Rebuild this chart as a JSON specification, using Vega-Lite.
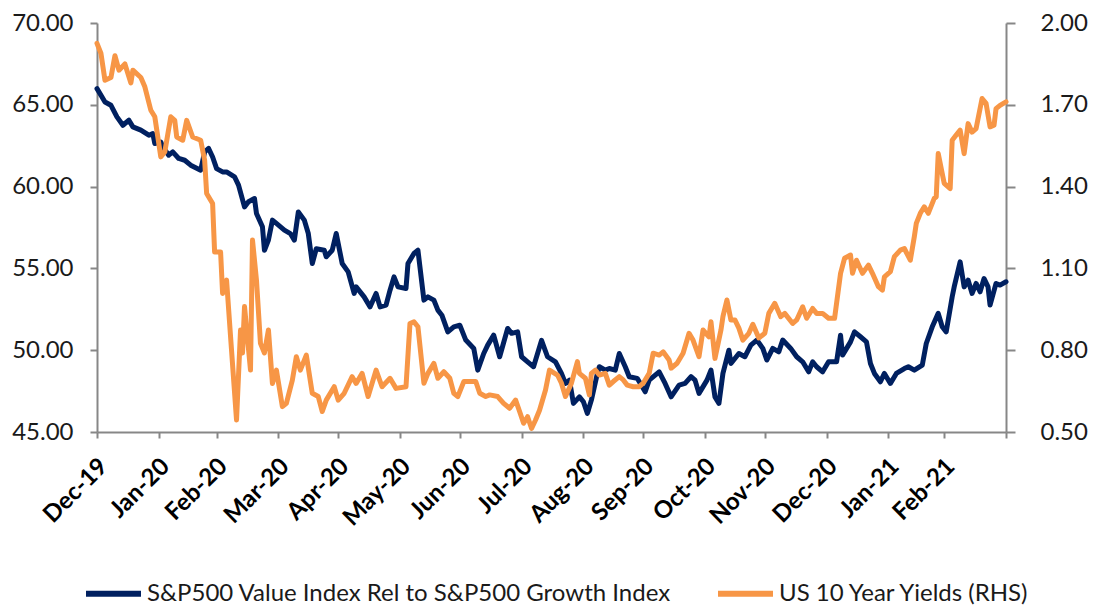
{
"$schema":"https://vega.github.io/schema/vega-lite/v6.json",
"width":909,"height":409,
"autosize":{"type":"none"},
"padding":{"left":97,"top":23,"right":96,"bottom":173},
"background":"white",
"config":{"view":{"stroke":null},"font":"Lato","axis":{"grid":false}},
"datasets":{
"rel":[
{"date":"2019-12-31","v":65.99},{"date":"2020-01-02","v":65.58},{"date":"2020-01-04","v":65.17},{"date":"2020-01-07","v":64.97},{"date":"2020-01-10","v":64.26},{"date":"2020-01-13","v":63.75},{"date":"2020-01-16","v":64.06},{"date":"2020-01-18","v":63.65},{"date":"2020-01-22","v":63.45},{"date":"2020-01-26","v":63.14},{"date":"2020-01-28","v":63.24},{"date":"2020-01-29","v":62.63},
{"date":"2020-02-01","v":62.73},{"date":"2020-02-02","v":62.43},{"date":"2020-02-05","v":61.92},{"date":"2020-02-07","v":62.12},{"date":"2020-02-10","v":61.72},{"date":"2020-02-13","v":61.61},{"date":"2020-02-16","v":61.31},{"date":"2020-02-21","v":61.0},{"date":"2020-02-23","v":62.12},{"date":"2020-02-25","v":62.33},{"date":"2020-02-27","v":61.81},{"date":"2020-02-29","v":61.1},
{"date":"2020-03-03","v":60.9},{"date":"2020-03-05","v":60.9},{"date":"2020-03-09","v":60.6},{"date":"2020-03-11","v":60.09},{"date":"2020-03-14","v":58.76},{"date":"2020-03-16","v":59.07},{"date":"2020-03-19","v":59.27},{"date":"2020-03-20","v":58.36},{"date":"2020-03-23","v":57.54},{"date":"2020-03-24","v":56.11},{"date":"2020-03-26","v":56.73},{"date":"2020-03-28","v":57.95},{"date":"2020-03-30","v":57.75},
{"date":"2020-04-03","v":57.34},{"date":"2020-04-06","v":57.13},{"date":"2020-04-08","v":56.73},{"date":"2020-04-10","v":58.45},{"date":"2020-04-13","v":57.95},{"date":"2020-04-15","v":57.13},{"date":"2020-04-17","v":55.3},{"date":"2020-04-19","v":56.2},{"date":"2020-04-23","v":56.11},{"date":"2020-04-24","v":55.71},{"date":"2020-04-27","v":56.11},{"date":"2020-04-29","v":57.13},
{"date":"2020-05-02","v":55.3},{"date":"2020-05-05","v":54.79},{"date":"2020-05-08","v":53.47},{"date":"2020-05-09","v":53.87},{"date":"2020-05-13","v":53.26},{"date":"2020-05-16","v":52.65},{"date":"2020-05-19","v":53.47},{"date":"2020-05-21","v":52.65},{"date":"2020-05-24","v":52.76},{"date":"2020-05-26","v":53.67},{"date":"2020-05-28","v":54.48},{"date":"2020-05-30","v":53.87},
{"date":"2020-06-03","v":53.77},{"date":"2020-06-04","v":55.3},{"date":"2020-06-07","v":55.91},{"date":"2020-06-09","v":56.11},{"date":"2020-06-12","v":53.06},{"date":"2020-06-14","v":53.26},{"date":"2020-06-17","v":53.06},{"date":"2020-06-19","v":52.45},{"date":"2020-06-21","v":52.14},{"date":"2020-06-24","v":51.12},{"date":"2020-06-27","v":51.43},{"date":"2020-06-30","v":51.53},
{"date":"2020-07-03","v":50.62},{"date":"2020-07-07","v":50.11},{"date":"2020-07-09","v":48.78},{"date":"2020-07-12","v":49.8},{"date":"2020-07-14","v":50.31},{"date":"2020-07-17","v":50.92},{"date":"2020-07-20","v":49.6},{"date":"2020-07-24","v":51.33},{"date":"2020-07-26","v":51.03},{"date":"2020-07-29","v":51.12},{"date":"2020-07-31","v":49.6},
{"date":"2020-08-03","v":49.29},{"date":"2020-08-06","v":48.99},{"date":"2020-08-10","v":50.6},{"date":"2020-08-13","v":49.6},{"date":"2020-08-17","v":49.29},{"date":"2020-08-20","v":48.58},{"date":"2020-08-22","v":47.97},{"date":"2020-08-24","v":48.17},{"date":"2020-08-26","v":46.75},{"date":"2020-08-29","v":47.15},{"date":"2020-08-31","v":46.85},
{"date":"2020-09-02","v":46.14},{"date":"2020-09-04","v":46.95},{"date":"2020-09-07","v":48.58},{"date":"2020-09-08","v":48.99},{"date":"2020-09-11","v":48.78},{"date":"2020-09-13","v":48.88},{"date":"2020-09-16","v":48.78},{"date":"2020-09-18","v":49.8},{"date":"2020-09-21","v":48.99},{"date":"2020-09-23","v":48.38},{"date":"2020-09-27","v":48.28},
{"date":"2020-10-01","v":47.46},{"date":"2020-10-03","v":48.17},{"date":"2020-10-08","v":48.68},{"date":"2020-10-11","v":47.97},{"date":"2020-10-14","v":47.15},{"date":"2020-10-18","v":47.87},{"date":"2020-10-21","v":47.97},{"date":"2020-10-24","v":48.38},{"date":"2020-10-26","v":48.17},{"date":"2020-10-28","v":47.36},
{"date":"2020-11-01","v":48.17},{"date":"2020-11-03","v":48.78},{"date":"2020-11-05","v":47.15},{"date":"2020-11-07","v":46.75},{"date":"2020-11-09","v":48.58},{"date":"2020-11-12","v":50.0},{"date":"2020-11-13","v":49.19},{"date":"2020-11-17","v":49.8},{"date":"2020-11-20","v":49.6},{"date":"2020-11-23","v":50.31},{"date":"2020-11-26","v":50.62},{"date":"2020-11-29","v":50.11},
{"date":"2020-12-01","v":49.4},{"date":"2020-12-04","v":50.11},{"date":"2020-12-07","v":49.9},{"date":"2020-12-09","v":50.62},{"date":"2020-12-13","v":50.11},{"date":"2020-12-16","v":49.6},{"date":"2020-12-19","v":49.29},{"date":"2020-12-22","v":48.68},{"date":"2020-12-24","v":49.29},{"date":"2020-12-26","v":48.99},{"date":"2020-12-29","v":48.68},
{"date":"2021-01-01","v":49.29},{"date":"2021-01-05","v":49.29},{"date":"2021-01-07","v":50.92},{"date":"2021-01-08","v":49.7},{"date":"2021-01-12","v":50.51},{"date":"2021-01-14","v":51.12},{"date":"2021-01-17","v":50.82},{"date":"2021-01-20","v":50.51},{"date":"2021-01-22","v":49.19},{"date":"2021-01-24","v":48.58},{"date":"2021-01-27","v":48.07},{"date":"2021-01-29","v":48.58},
{"date":"2021-02-01","v":47.97},{"date":"2021-02-04","v":48.58},{"date":"2021-02-08","v":48.88},{"date":"2021-02-10","v":48.99},{"date":"2021-02-13","v":48.78},{"date":"2021-02-17","v":49.09},{"date":"2021-02-19","v":50.41},{"date":"2021-02-22","v":51.43},{"date":"2021-02-25","v":52.25},{"date":"2021-02-27","v":51.43},
{"date":"2021-03-01","v":51.12},{"date":"2021-03-04","v":53.26},{"date":"2021-03-05","v":53.87},{"date":"2021-03-08","v":55.4},{"date":"2021-03-10","v":53.87},{"date":"2021-03-12","v":54.28},{"date":"2021-03-14","v":53.47},{"date":"2021-03-16","v":54.08},{"date":"2021-03-18","v":53.57},{"date":"2021-03-20","v":54.38},{"date":"2021-03-22","v":53.87},{"date":"2021-03-23","v":52.76},{"date":"2021-03-26","v":54.08},{"date":"2021-03-28","v":53.98},{"date":"2021-03-31","v":54.18}
],
"yld":[
{"date":"2019-12-31","v":1.925},{"date":"2020-01-02","v":1.888},{"date":"2020-01-04","v":1.79},{"date":"2020-01-07","v":1.8},{"date":"2020-01-09","v":1.88},{"date":"2020-01-11","v":1.827},{"date":"2020-01-14","v":1.85},{"date":"2020-01-17","v":1.78},{"date":"2020-01-18","v":1.827},{"date":"2020-01-22","v":1.8},{"date":"2020-01-24","v":1.766},{"date":"2020-01-27","v":1.68},{"date":"2020-01-29","v":1.656},
{"date":"2020-02-01","v":1.509},{"date":"2020-02-03","v":1.527},{"date":"2020-02-06","v":1.656},{"date":"2020-02-08","v":1.643},{"date":"2020-02-09","v":1.582},{"date":"2020-02-12","v":1.57},{"date":"2020-02-14","v":1.643},{"date":"2020-02-17","v":1.582},{"date":"2020-02-21","v":1.57},{"date":"2020-02-23","v":1.497},{"date":"2020-02-24","v":1.375},{"date":"2020-02-27","v":1.338},{"date":"2020-02-28","v":1.16},
{"date":"2020-03-02","v":1.16},{"date":"2020-03-03","v":1.008},{"date":"2020-03-05","v":1.057},{"date":"2020-03-07","v":0.85},{"date":"2020-03-10","v":0.544},{"date":"2020-03-12","v":0.874},{"date":"2020-03-13","v":0.79},{"date":"2020-03-14","v":0.96},{"date":"2020-03-17","v":0.727},{"date":"2020-03-18","v":1.204},{"date":"2020-03-20","v":1.057},{"date":"2020-03-22","v":0.825},{"date":"2020-03-24","v":0.79},{"date":"2020-03-26","v":0.874},{"date":"2020-03-28","v":0.678},{"date":"2020-03-30","v":0.727},
{"date":"2020-04-02","v":0.593},{"date":"2020-04-04","v":0.605},{"date":"2020-04-07","v":0.69},{"date":"2020-04-09","v":0.776},{"date":"2020-04-11","v":0.727},{"date":"2020-04-14","v":0.782},{"date":"2020-04-17","v":0.642},{"date":"2020-04-20","v":0.63},{"date":"2020-04-22","v":0.575},{"date":"2020-04-24","v":0.617},{"date":"2020-04-28","v":0.666},{"date":"2020-04-30","v":0.617},
{"date":"2020-05-03","v":0.642},{"date":"2020-05-07","v":0.703},{"date":"2020-05-09","v":0.678},{"date":"2020-05-12","v":0.715},{"date":"2020-05-15","v":0.63},{"date":"2020-05-19","v":0.727},{"date":"2020-05-22","v":0.666},{"date":"2020-05-26","v":0.697},{"date":"2020-05-29","v":0.66},
{"date":"2020-06-03","v":0.666},{"date":"2020-06-05","v":0.898},{"date":"2020-06-07","v":0.904},{"date":"2020-06-09","v":0.886},{"date":"2020-06-12","v":0.679},{"date":"2020-06-14","v":0.715},{"date":"2020-06-17","v":0.752},{"date":"2020-06-19","v":0.697},{"date":"2020-06-22","v":0.721},{"date":"2020-06-25","v":0.697},{"date":"2020-06-27","v":0.642},{"date":"2020-06-29","v":0.63},
{"date":"2020-07-02","v":0.685},{"date":"2020-07-05","v":0.685},{"date":"2020-07-08","v":0.685},{"date":"2020-07-10","v":0.642},{"date":"2020-07-13","v":0.63},{"date":"2020-07-15","v":0.636},{"date":"2020-07-19","v":0.63},{"date":"2020-07-22","v":0.605},{"date":"2020-07-25","v":0.587},{"date":"2020-07-28","v":0.617},{"date":"2020-07-30","v":0.575},
{"date":"2020-08-01","v":0.532},{"date":"2020-08-03","v":0.556},{"date":"2020-08-05","v":0.513},{"date":"2020-08-07","v":0.544},{"date":"2020-08-09","v":0.58},{"date":"2020-08-12","v":0.654},{"date":"2020-08-14","v":0.727},{"date":"2020-08-18","v":0.709},{"date":"2020-08-20","v":0.679},{"date":"2020-08-22","v":0.63},{"date":"2020-08-25","v":0.679},{"date":"2020-08-28","v":0.758},{"date":"2020-08-29","v":0.715},
{"date":"2020-09-01","v":0.697},{"date":"2020-09-03","v":0.636},{"date":"2020-09-04","v":0.715},{"date":"2020-09-06","v":0.727},{"date":"2020-09-08","v":0.709},{"date":"2020-09-11","v":0.715},{"date":"2020-09-13","v":0.672},{"date":"2020-09-15","v":0.685},{"date":"2020-09-18","v":0.703},{"date":"2020-09-20","v":0.691},{"date":"2020-09-22","v":0.672},{"date":"2020-09-25","v":0.666},{"date":"2020-09-28","v":0.666},{"date":"2020-09-30","v":0.679},
{"date":"2020-10-03","v":0.715},{"date":"2020-10-05","v":0.789},{"date":"2020-10-08","v":0.782},{"date":"2020-10-10","v":0.794},{"date":"2020-10-13","v":0.764},{"date":"2020-10-14","v":0.734},{"date":"2020-10-17","v":0.752},{"date":"2020-10-20","v":0.789},{"date":"2020-10-23","v":0.862},{"date":"2020-10-25","v":0.837},{"date":"2020-10-28","v":0.776},{"date":"2020-10-30","v":0.874},
{"date":"2020-11-02","v":0.849},{"date":"2020-11-03","v":0.904},{"date":"2020-11-05","v":0.77},{"date":"2020-11-08","v":0.874},{"date":"2020-11-09","v":0.923},{"date":"2020-11-11","v":0.984},{"date":"2020-11-13","v":0.911},{"date":"2020-11-15","v":0.911},{"date":"2020-11-17","v":0.881},{"date":"2020-11-19","v":0.837},{"date":"2020-11-22","v":0.862},{"date":"2020-11-24","v":0.895},{"date":"2020-11-27","v":0.845},{"date":"2020-11-30","v":0.862},
{"date":"2020-12-02","v":0.935},{"date":"2020-12-05","v":0.972},{"date":"2020-12-08","v":0.923},{"date":"2020-12-10","v":0.935},{"date":"2020-12-14","v":0.898},{"date":"2020-12-16","v":0.911},{"date":"2020-12-19","v":0.959},{"date":"2020-12-21","v":0.917},{"date":"2020-12-24","v":0.953},{"date":"2020-12-26","v":0.935},{"date":"2020-12-29","v":0.935},
{"date":"2021-01-01","v":0.917},{"date":"2021-01-04","v":0.917},{"date":"2021-01-07","v":1.082},{"date":"2021-01-09","v":1.137},{"date":"2021-01-12","v":1.149},{"date":"2021-01-13","v":1.082},{"date":"2021-01-15","v":1.13},{"date":"2021-01-18","v":1.082},{"date":"2021-01-21","v":1.112},{"date":"2021-01-23","v":1.082},{"date":"2021-01-26","v":1.033},{"date":"2021-01-28","v":1.02},{"date":"2021-01-29","v":1.069},
{"date":"2021-02-01","v":1.088},{"date":"2021-02-03","v":1.143},{"date":"2021-02-06","v":1.167},{"date":"2021-02-08","v":1.173},{"date":"2021-02-11","v":1.13},{"date":"2021-02-13","v":1.216},{"date":"2021-02-14","v":1.265},{"date":"2021-02-16","v":1.302},{"date":"2021-02-18","v":1.326},{"date":"2021-02-20","v":1.302},{"date":"2021-02-23","v":1.357},{"date":"2021-02-24","v":1.362},{"date":"2021-02-25","v":1.521},{"date":"2021-02-27","v":1.448},{"date":"2021-02-28","v":1.412},
{"date":"2021-03-03","v":1.393},{"date":"2021-03-04","v":1.57},{"date":"2021-03-06","v":1.589},{"date":"2021-03-08","v":1.607},{"date":"2021-03-10","v":1.521},{"date":"2021-03-12","v":1.631},{"date":"2021-03-14","v":1.6},{"date":"2021-03-16","v":1.613},{"date":"2021-03-19","v":1.723},{"date":"2021-03-21","v":1.705},{"date":"2021-03-23","v":1.619},{"date":"2021-03-25","v":1.625},{"date":"2021-03-26","v":1.686},{"date":"2021-03-28","v":1.698},{"date":"2021-03-31","v":1.711}
]
},
"layer":[
{"data":{"name":"rel"},
 "mark":{"type":"line","strokeWidth":5,"strokeJoin":"round","strokeCap":"round"},
 "encoding":{
  "x":{"field":"date","type":"temporal",
   "scale":{"type":"utc","domain":[{"year":2019,"month":12,"date":31,"utc":true},{"year":2021,"month":3,"date":31,"utc":true}]},
   "axis":{"title":null,
    "values":[{"year":2019,"month":12,"date":31,"utc":true},{"year":2020,"month":1,"date":31,"utc":true},{"year":2020,"month":2,"date":29,"utc":true},{"year":2020,"month":3,"date":31,"utc":true},{"year":2020,"month":4,"date":30,"utc":true},{"year":2020,"month":5,"date":31,"utc":true},{"year":2020,"month":6,"date":30,"utc":true},{"year":2020,"month":7,"date":31,"utc":true},{"year":2020,"month":8,"date":31,"utc":true},{"year":2020,"month":9,"date":30,"utc":true},{"year":2020,"month":10,"date":31,"utc":true},{"year":2020,"month":11,"date":30,"utc":true},{"year":2020,"month":12,"date":31,"utc":true},{"year":2021,"month":1,"date":31,"utc":true},{"year":2021,"month":2,"date":28,"utc":true},{"year":2021,"month":3,"date":31,"utc":true}],
    "labelExpr":"utcyear(datum.value) == 2021 && utcmonth(datum.value) == 2 ? '' : utcFormat(datum.value, '%b-%y')",
    "labelAngle":-45,"labelAlign":"right","labelBaseline":"top","labelFontWeight":"bold","labelFontSize":24,"labelColor":"#000000","labelPadding":16,"labelOffset":-2,
    "labelOverlap":false,"labelBound":false,"labelFlush":false,
    "tickSize":6,"tickWidth":2,"tickColor":"#878787","domainColor":"#878787","domainWidth":2}},
  "y":{"field":"v","type":"quantitative",
   "scale":{"domain":[45,70],"nice":false,"zero":false},
   "axis":{"title":null,"values":[45,50,55,60,65,70],"format":".2f","labelFontSize":24,"labelColor":"#1a1a1a","labelPadding":17,"tickSize":7,"tickWidth":2,"tickColor":"#878787","domainColor":"#878787","domainWidth":2,"grid":false}},
  "color":{"datum":"S&P500 Value Index Rel to S&P500 Growth Index","type":"nominal",
   "scale":{"domain":["S&P500 Value Index Rel to S&P500 Growth Index","US 10 Year Yields (RHS)"],"range":["#002060","#F79646"]},
   "legend":{"orient":"none","legendX":-14,"legendY":540,"direction":"horizontal","title":null,"symbolType":"stroke","symbolSize":3025,"symbolStrokeWidth":6,"labelFontSize":24,"labelColor":"#1a1a1a","labelOffset":3,"columnPadding":35,"padding":0,"labelLimit":0}}
 }},
{"data":{"name":"yld"},
 "mark":{"type":"line","strokeWidth":5,"strokeJoin":"round","strokeCap":"round"},
 "encoding":{
  "x":{"field":"date","type":"temporal"},
  "y":{"field":"v","type":"quantitative",
   "scale":{"domain":[0.5,2.0],"nice":false,"zero":false},
   "axis":{"title":null,"orient":"right","values":[0.5,0.8,1.1,1.4,1.7,2.0],"format":".2f","labelFontSize":24,"labelColor":"#1a1a1a","labelPadding":25,"tickSize":9,"tickWidth":2,"tickColor":"#878787","domainColor":"#878787","domainWidth":2,"grid":false}},
  "color":{"datum":"US 10 Year Yields (RHS)","type":"nominal"}
 }}
],
"resolve":{"scale":{"y":"independent"}}
}
